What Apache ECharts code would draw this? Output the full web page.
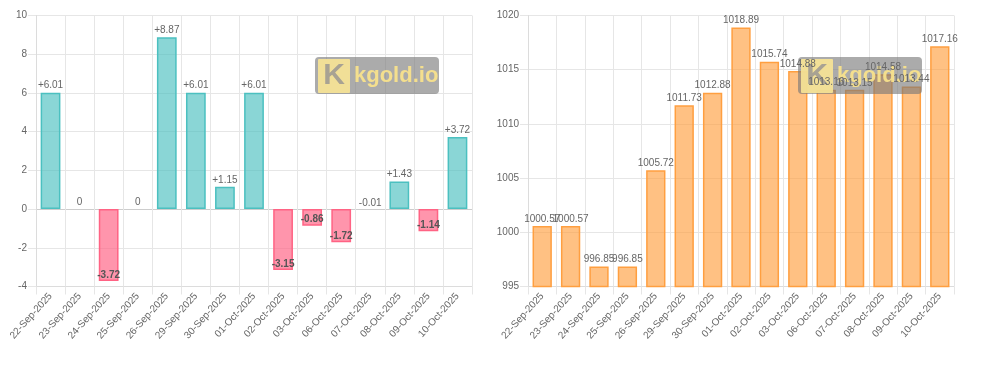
<!DOCTYPE html>
<html>
<head>
<meta charset="utf-8">
<script src="https://cdn.jsdelivr.net/npm/echarts@6/dist/echarts.min.js"></script>
<style>
  html, body { margin: 0; padding: 0; background: #fff; }
  #chart { width: 986px; height: 375px; }
</style>
</head>
<body>
<div id="chart"></div>
<script>
const dates = ['22-Sep-2025', '23-Sep-2025', '24-Sep-2025', '25-Sep-2025', '26-Sep-2025', '29-Sep-2025', '30-Sep-2025',
  '01-Oct-2025', '02-Oct-2025', '03-Oct-2025', '06-Oct-2025', '07-Oct-2025', '08-Oct-2025', '09-Oct-2025', '10-Oct-2025']
const changeValues = [6.01, 0, -3.72, 0, 8.87, 6.01, 1.15, 6.01, -3.15, -0.86, -1.72, -0.01, 1.43, -1.14, 3.72]
const priceValues = [1000.57, 1000.57, 996.85, 996.85, 1005.72, 1011.73, 1012.88, 1018.89, 1015.74, 1014.88,
  1013.16, 1013.15, 1014.58, 1013.44, 1017.16]

var chart = echarts.init(document.getElementById('chart'))

const font = 'Liberation Sans'
const gridColor = '#e6e6e6'

function xAxisOf(idx) {
  return {
    type: 'category',
    gridIndex: idx,
    data: dates,
    boundaryGap: true,
    axisLine: { onZero: false, lineStyle: { color: '#dcdcdc' } },
    axisTick: { show: true, length: 8, interval: 0, lineStyle: { color: gridColor } },
    splitLine: { show: true, interval: 0, lineStyle: { color: gridColor } },
    axisLabel: { interval: 0, rotate: 48, margin: 8, color: '#666', fontSize: 10, fontFamily: font }
  }
}

function yAxisOf(idx, min, max, step, lineColors) {
  return {
    type: 'value',
    gridIndex: idx,
    min: min,
    max: max,
    interval: step,
    axisLine: { show: true, lineStyle: { color: '#dcdcdc' } },
    axisTick: { show: true, length: 8, lineStyle: { color: gridColor } },
    splitLine: { show: true, lineStyle: { color: lineColors } },
    axisLabel: { margin: 9, color: '#666', fontSize: 10, fontFamily: font, formatter: v => String(v) }
  }
}

// left chart: daily change
function changeData() {
  return changeValues.map(v => {
    let down = v < 0
    let flat = Math.abs(v) < 0.05
    let item = {
      value: v,
      itemStyle: down
        ? { color: 'rgba(255,99,132,0.68)', borderColor: '#ff6384' }
        : { color: 'rgba(75,192,192,0.65)', borderColor: '#4bc0c0' }
    }
    if (flat) {
      item.itemStyle.borderWidth = 0
      item.itemStyle.color = 'rgba(0,0,0,0)'
    }
    if (down) {
      item.label = {
        position: 'insideBottom',
        distance: 1,
        color: flat ? '#666' : '#555',
        fontWeight: flat ? 'normal' : 'bold'
      }
    }
    return item
  })
}

function fmtChange(v) {
  if (v > 0) return '+' + v.toFixed(2)
  if (v === 0) return '0'
  return v.toFixed(2)
}

// logo box sits over the bars but under the value labels
function watermark(x) {
  return {
    type: 'group',
    left: x,
    top: 57,
    z: 3,
    children: [
      { type: 'rect', z: 3, shape: { x: 0, y: 0, width: 124, height: 37, r: 4 }, style: { fill: 'rgba(120,120,120,0.62)' } },
      { type: 'rect', z: 3, shape: { x: 3, y: 2, width: 32, height: 34, r: 1 }, style: { fill: 'rgba(250,230,150,0.9)' } },
      { type: 'text', z: 3, style: { x: 19, y: 19, text: 'K', fill: '#a8a293', font: 'bold 30px "Liberation Sans"', align: 'center', verticalAlign: 'middle' } },
      { type: 'text', z: 3, style: { x: 39, y: 19, text: 'kgold.io', fill: 'rgba(248,226,140,0.95)', font: 'bold 22px "Liberation Sans"', verticalAlign: 'middle' } }
    ]
  }
}

const labelStyle = {
  show: true,
  position: 'top',
  distance: 2,
  color: '#666',
  fontSize: 10,
  fontFamily: font
}

var options = {
  animation: false,
  textStyle: { fontFamily: font },
  grid: [
    { left: 36, right: 514, top: 15.5, bottom: 88.5 },
    { left: 528, right: 32, top: 15.5, bottom: 88.5 }
  ],
  xAxis: [xAxisOf(0), xAxisOf(1)],
  yAxis: [
    yAxisOf(0, -4, 10, 2, [gridColor, gridColor, '#cdcdcd', gridColor, gridColor, gridColor, gridColor, gridColor]),
    yAxisOf(1, 995, 1020, 5, [gridColor])
  ],
  graphic: [watermark(315), watermark(798)],
  series: [
    {
      type: 'bar',
      xAxisIndex: 0,
      yAxisIndex: 0,
      barWidth: '68%',
      data: changeData(),
      itemStyle: { borderWidth: 1.5 },
      label: Object.assign({}, labelStyle, { formatter: p => fmtChange(p.value) })
    },
    {
      type: 'bar',
      xAxisIndex: 1,
      yAxisIndex: 1,
      barWidth: '68%',
      z: 2,
      data: priceValues,
      itemStyle: { color: 'rgba(255,159,64,0.65)', borderColor: '#ff9f40', borderWidth: 1.5 }
    },
    {
      // same values again, only to carry the labels above the logo
      type: 'bar',
      xAxisIndex: 1,
      yAxisIndex: 1,
      barWidth: '68%',
      barGap: '-100%',
      z: 4,
      silent: true,
      data: priceValues,
      itemStyle: { color: 'rgba(0,0,0,0)' },
      label: Object.assign({}, labelStyle, { formatter: p => p.value.toFixed(2) })
    }
  ]
}

chart.setOption(options)
</script>
</body>
</html>
